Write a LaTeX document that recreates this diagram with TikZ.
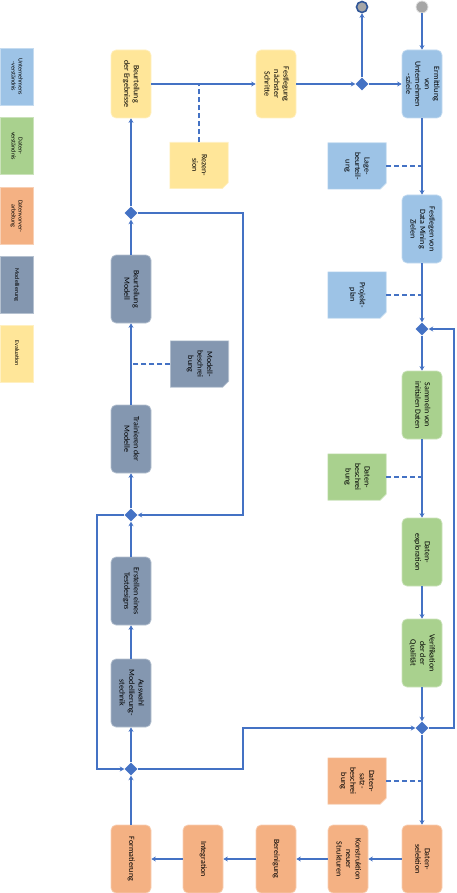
\documentclass[tikz,border=0pt]{standalone}
\usepackage{fontspec}
\setmainfont{Carlito}
\usetikzlibrary{shapes.geometric,arrows.meta,backgrounds}
\definecolor{lnc}{HTML}{4472C4}
\definecolor{ubF}{HTML}{9DC3E6}
\definecolor{dvF}{HTML}{A9D18E}
\definecolor{dpF}{HTML}{F4B183}
\definecolor{moF}{HTML}{8497B0}
\definecolor{evF}{HTML}{FFE699}
\definecolor{endB}{HTML}{2F5597}
\definecolor{circF}{HTML}{A6A6A6}
\newcommand{\rt}[1]{\rotatebox{-90}{\begin{tabular}{@{}c@{}}#1\end{tabular}}}
\begin{document}
\begin{tikzpicture}[x=1pt,y=-1pt,
  bx/.style={rounded corners=5pt, minimum width=40pt, minimum height=68pt, inner sep=0pt, line width=0.7pt, font=\fontsize{8}{9.4}\selectfont},
  ub/.style={bx, fill=ubF, draw=ubF!60!white},
  dv/.style={bx, fill=dvF, draw=dvF!60!white},
  dp/.style={bx, fill=dpF, draw=dpF!60!white},
  mo/.style={bx, fill=moF, draw=moF!60!white},
  ev/.style={bx, fill=evF, draw=evF!60!white},
  lg/.style={minimum width=33pt, minimum height=57pt, inner sep=0pt, line width=0.6pt, font=\fontsize{6}{7}\selectfont},
  doc/.style={minimum width=58pt, minimum height=46pt, inner sep=0pt, font=\fontsize{8}{9.4}\selectfont},
  dia/.style={diamond, fill=lnc, inner sep=0pt, minimum size=13pt},
  arr/.style={draw=lnc, line width=1.4pt, -{Stealth[length=4.5pt,width=5pt]}},
  ln/.style={draw=lnc, line width=1.4pt},
  dsh/.style={draw=lnc, line width=1.4pt, dash pattern=on 5pt off 3pt}
]
\useasboundingbox (0,0) rectangle (456,893);

% legend
\node[lg, fill=ubF, draw=ubF!60!white] (L1) at (16.5,76.5) {\rt{Unternehmens\\-verständnis}};
\node[lg, fill=dvF, draw=dvF!60!white] (L2) at (16.5,146) {\rt{Daten-\\verständnis}};
\node[lg, fill=dpF, draw=dpF!60!white] (L3) at (16.5,216) {\rt{Datenvorver-\\arbeitung}};
\node[lg, fill=moF, draw=moF!60!white] (L4) at (16.5,285) {\rt{Modellierung}};
\node[lg, fill=evF, draw=evF!60!white] (L5) at (16.5,353.5) {\rt{Evaluation}};

% process boxes
\node[ub] (E1) at (422,84) {\rt{Ermittlung\\von\\Unternehmen\\-sziele}};
\node[ub] (E2) at (422,229) {\rt{Festlegen von\\Data Mining\\Zielen}};
\node[dv] (D1) at (422,405) {\rt{Sammeln von\\initialen Daten}};
\node[dv] (D2) at (422,552) {\rt{Daten-\\exploration}};
\node[dv] (D3) at (422,653) {\rt{Verifikation\\der der\\Qualität}};
\node[dp] (P1) at (422,859) {\rt{Daten-\\selektion}};
\node[dp] (P2) at (348,859) {\rt{Konstruktion\\neuer\\Strukturen}};
\node[dp] (P3) at (276,859) {\rt{Bereinigung}};
\node[dp] (P4) at (203,859) {\rt{Integration}};
\node[dp] (P5) at (131,859) {\rt{Formatierung}};
\node[mo] (M1) at (131,693) {\rt{Auswahl\\Modellierung-\\stechnik}};
\node[mo] (M2) at (131,591) {\rt{Erstellen eines\\Testdesigns}};
\node[mo] (M3) at (131,439) {\rt{Trainieren der\\Modelle}};
\node[mo] (M4) at (131,289) {\rt{Beurteilung\\Modell}};
\node[ev] (V1) at (131,84) {\rt{Beurteilung\\der Ergebnisse}};
\node[ev] (V2) at (276,84) {\rt{Festlegung\\nächster\\Schritte}};

% documents
\node[doc] (Rez) at (199,165.5) {\rt{Rezen-\\sion}};
\node[doc] (Lage) at (357,166) {\rt{Lage-\\beurteil-\\ung}};
\node[doc] (Proj) at (357,295) {\rt{Projekt-\\plan}};
\node[doc] (Dbes) at (357,477) {\rt{Daten-\\beschrei\\bung}};
\node[doc] (Dsatz) at (357,781) {\rt{Daten-\\satz-\\beschrei\\bung}};
\node[doc] (Modb) at (199.5,364) {\rt{Modell-\\beschrei\\bung}};

\begin{scope}[on background layer]
\foreach \d/\c in {Rez/evF, Lage/ubF, Proj/ubF, Dbes/dvF, Dsatz/dpF, Modb/moF}{
  \filldraw[fill=\c, draw=\c!60!white, line width=0.6pt] (\d.north west) -- (\d.north east) -- ([yshift=6pt]\d.south east) -- ([xshift=-6pt]\d.south east) -- (\d.south west) -- cycle;
}
\end{scope}

% diamonds and terminals
\node[dia] (g1) at (362,84) {};
\node[dia] (g2) at (422,329) {};
\node[dia] (g3) at (422,728) {};
\node[dia] (g4) at (131,769) {};
\node[dia] (g5) at (131,515) {};
\node[dia] (g6) at (131,213) {};
\node[circle, minimum size=12pt, inner sep=0pt, fill=circF, draw=white!75!gray, line width=0.8pt] (start) at (422,7) {};
\node[circle, minimum size=11pt, inner sep=0pt, fill=circF, draw=endB, line width=1.6pt] (end) at (362,7) {};

\coordinate (r1) at (243,0);
\coordinate (r2) at (454,0);
\coordinate (l1) at (97,0);

% main flow
\draw[arr] (start) -- (E1);
\draw[arr] (E1) -- (E2);
\draw[arr] (E2) -- (g2);
\draw[arr] (g2) -- (D1);
\draw[arr] (D1) -- (D2);
\draw[arr] (D2) -- (D3);
\draw[arr] (D3) -- (g3);
\draw[arr] (g3) -- (P1);
\draw[arr] (P1) -- (P2);
\draw[arr] (P2) -- (P3);
\draw[arr] (P3) -- (P4);
\draw[arr] (P4) -- (P5);
\draw[arr] (P5) -- (g4);
\draw[arr] (g4) -- (M1);
\draw[arr] (M1) -- (M2);
\draw[arr] (M2) -- (g5);
\draw[arr] (g5) -- (M3);
\draw[arr] (M3) -- (M4);
\draw[arr] (M4) -- (g6);
\draw[arr] (g6) -- (V1);
\draw[arr] (V1) -- (V2);
\draw[arr] (V2) -- (g1);
\draw[arr] (g1) -- (E1);
\draw[arr] (g1) -- (end);

% loops
\draw[arr] (g6.east) -- (g6 -| r1) -- (g5 -| r1) -- (g5.east);
\draw[arr] (g5.west) -- (g5 -| l1) -- (g4 -| l1) -- (g4.west);
\draw[arr] (g4.east) -- (g4 -| r1) -- (g3 -| r1) -- (g3.west);
\draw[arr] (g3.east) -- (g3 -| r2) -- (g2 -| r2) -- (g2.east);

% dashed document links
\draw[dsh] (Rez.north) -- (Rez.north |- V1.east);
\draw[dsh] (Lage.east) -- (Lage.east -| E1.south);
\draw[dsh] (Proj.east) -- (Proj.east -| E2.south);
\draw[dsh] (Dbes.east) -- (Dbes.east -| D1.south);
\draw[dsh] (Dsatz.east) -- (Dsatz.east -| P1.north);
\draw[dsh] (Modb.west) -- (Modb.west -| M3.north);
\end{tikzpicture}
\end{document}
